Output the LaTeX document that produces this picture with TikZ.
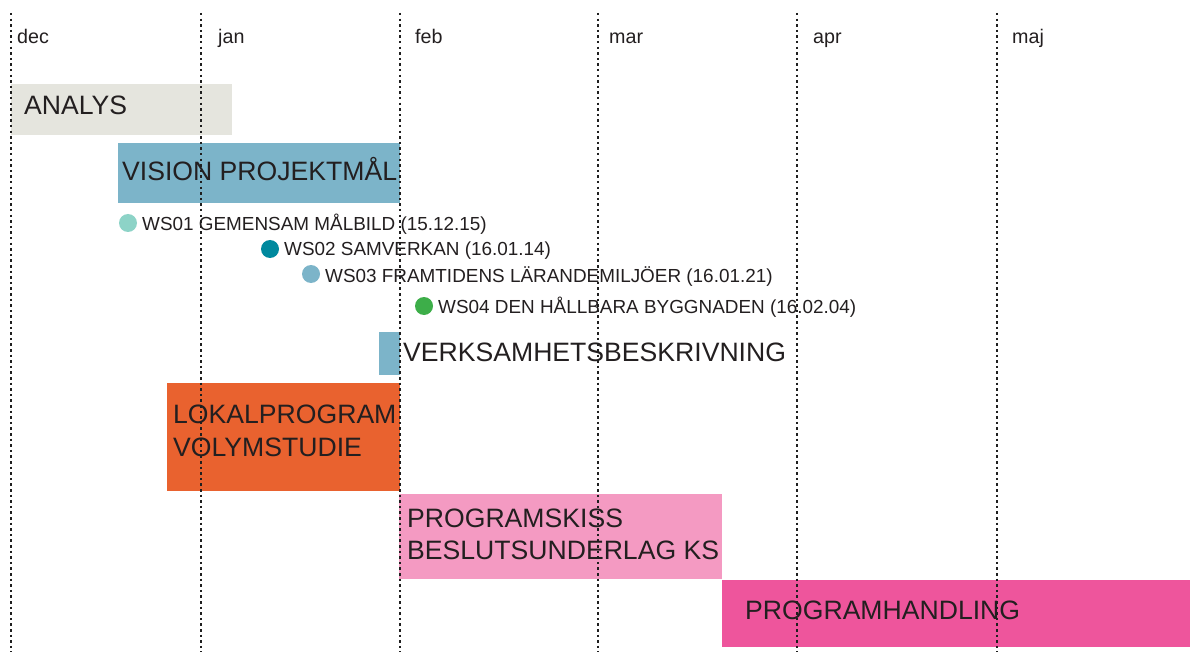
\documentclass[tikz,border=0pt]{standalone}
\usepackage{fontspec}
\setmainfont{Liberation Sans}
\definecolor{txt}{HTML}{231F20}
\definecolor{analys}{HTML}{E5E5DE}
\definecolor{vision}{HTML}{7CB4C9}
\definecolor{lokal}{HTML}{E9622F}
\definecolor{skiss}{HTML}{F49AC2}
\definecolor{handling}{HTML}{EE559C}
\definecolor{wsa}{HTML}{8DD3C7}
\definecolor{wsb}{HTML}{00899E}
\definecolor{wsc}{HTML}{7CB4C9}
\definecolor{wsd}{HTML}{3DAE49}
\begin{document}
\begin{tikzpicture}[x=1pt,y=-1pt,
  month/.style={anchor=base west,inner sep=0pt,text=txt,font=\fontsize{19.7}{24}\selectfont},
  phase/.style={anchor=base west,inner sep=0pt,text=txt,font=\fontsize{26.6}{33}\selectfont},
  wslabel/.style={anchor=base west,inner sep=0pt,text=txt,font=\fontsize{18.9}{23}\selectfont},
  wsdot/.style={circle,inner sep=0pt,minimum size=18pt},
  grid line/.style={line width=2.5pt,dash pattern=on 2.5pt off 3.1pt,draw=black!88}]
\useasboundingbox (0,0) rectangle (1190,652);

% phase bars
\fill[analys] (11,84) rectangle (232,135);
\fill[vision] (118,143) rectangle (400,203);
\fill[vision] (379,332) rectangle (400,375);
\fill[lokal] (167,383) rectangle (400,491);
\fill[skiss] (399,494) rectangle (722,579);
\fill[handling] (722,580) rectangle (1190,647);

% phase labels
\node[phase] (analys) at (24,115) {ANALYS};
\node[phase] (vision) at (122,181) {VISION PROJEKTMÅL};
\node[phase] (verks) at (403,361) {VERKSAMHETSBESKRIVNING};
\node[phase] (lokal1) at (173,423) {LOKALPROGRAM};
\node[phase] (lokal2) at (173,456) {VOLYMSTUDIE};
\node[phase] (skiss1) at (407,527) {PROGRAMSKISS};
\node[phase] (skiss2) at (407,559) {BESLUTSUNDERLAG KS};
\node[phase] (handling) at (745,619) {PROGRAMHANDLING};

% workshops
\node[wsdot,fill=wsa] (ws1dot) at (128,223) {};
\node[wslabel] (ws1) at (142,231) {WS01 GEMENSAM MÅLBILD (15.12.15)};
\node[wsdot,fill=wsb] (ws2dot) at (270,249) {};
\node[wslabel] (ws2) at (284,255) {WS02 SAMVERKAN (16.01.14)};
\node[wsdot,fill=wsc] (ws3dot) at (311,274) {};
\node[wslabel] (ws3) at (325,282) {WS03 FRAMTIDENS LÄRANDEMILJÖER (16.01.21)};
\node[wsdot,fill=wsd] (ws4dot) at (424,306) {};
\node[wslabel] (ws4) at (438,313) {WS04 DEN HÅLLBARA BYGGNADEN (16.02.04)};

% month grid
\foreach \x/\name in {11/dec,201/jan,400/feb,598/mar,797/apr,997/maj}{
  \coordinate (\name top) at (\x,13);
  \coordinate (\name bottom) at (\x,652);
  \draw[grid line] (\name top) -- (\name bottom);
}
\node[month] (dec) at (17,44) {dec};
\node[month] (jan) at (218,44) {jan};
\node[month] (feb) at (415,44) {feb};
\node[month] (mar) at (609,44) {mar};
\node[month] (apr) at (813,44) {apr};
\node[month] (maj) at (1012,44) {maj};
\end{tikzpicture}
\end{document}
